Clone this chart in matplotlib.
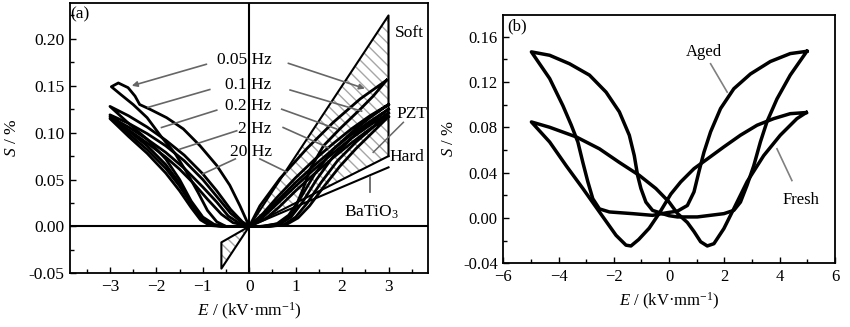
import numpy as np
import matplotlib
matplotlib.use("Agg")
import matplotlib.pyplot as plt
from matplotlib.ticker import MultipleLocator

plt.rcParams['font.family'] = ['Liberation Serif', 'DejaVu Serif']
plt.rcParams['mathtext.fontset'] = 'custom'
plt.rcParams['mathtext.rm'] = 'Liberation Serif'
plt.rcParams['mathtext.it'] = 'Liberation Serif:italic'
plt.rcParams['hatch.linewidth'] = 1.0

# ---------------- panel (a): butterfly loops at several frequencies ----------------
# each loop: right tip -> right outer -> origin -> left inner -> left tip -> left outer -> origin -> right inner -> right tip
loop_005_E = [2.96, 2.39, 1.81, 1.24, 0.66, 0.23, 0.0,
              -0.25, -0.5, -0.7, -0.9, -1.1, -1.35, -1.6, -1.9, -2.2, -2.5, -2.75, -2.97,
              -2.82, -2.61, -2.46, -2.36, -2.14, -1.78, -1.42, -1.06, -0.70, -0.42, -0.20, 0.0,
              0.23, 0.66, 0.95, 1.16, 1.31, 1.60, 1.95, 2.39, 2.67, 2.96]
loop_005_S = [0.156, 0.136, 0.111, 0.083, 0.051, 0.022, 0.0,
              0.0, 0.0, 0.005, 0.017, 0.036, 0.058, 0.078, 0.096, 0.116, 0.130, 0.140, 0.149,
              0.153, 0.148, 0.139, 0.130, 0.125, 0.116, 0.104, 0.086, 0.065, 0.044, 0.022, 0.0,
              0.0, 0.003, 0.015, 0.040, 0.061, 0.086, 0.104, 0.125, 0.139, 0.156]

loop_01_E = [3.0, 2.6, 2.2, 1.8, 1.4, 1.0, 0.6, 0.3, 0.0,
             -0.2, -0.5, -0.75, -1.0, -1.25, -1.5, -1.8, -2.2, -2.6, -3.0,
             -2.6, -2.2, -1.8, -1.4, -1.0, -0.7, -0.4, -0.15, 0.0,
             0.3, 0.6, 0.85, 1.1, 1.4, 1.8, 2.2, 2.6, 3.0]
loop_01_S = [0.130, 0.118, 0.104, 0.088, 0.071, 0.052, 0.031, 0.014, 0.0,
             0.0, 0.0, 0.002, 0.010, 0.027, 0.050, 0.072, 0.093, 0.110, 0.128,
             0.118, 0.106, 0.092, 0.076, 0.056, 0.038, 0.018, 0.005, 0.0,
             0.0, 0.003, 0.012, 0.030, 0.055, 0.082, 0.100, 0.116, 0.130]

loop_02_E = [3.0, 2.6, 2.2, 1.8, 1.4, 1.0, 0.6, 0.3, 0.0,
             -0.5, -0.8, -1.0, -1.25, -1.5, -1.8, -2.2, -2.6, -3.0,
             -2.6, -2.2, -1.8, -1.4, -1.0, -0.7, -0.4, -0.15, 0.0,
             0.35, 0.65, 0.9, 1.15, 1.45, 1.8, 2.2, 2.6, 3.0]
loop_02_S = [0.125, 0.112, 0.098, 0.082, 0.065, 0.047, 0.027, 0.012, 0.0,
             0.0, 0.002, 0.009, 0.025, 0.046, 0.066, 0.086, 0.102, 0.119,
             0.110, 0.099, 0.086, 0.070, 0.050, 0.032, 0.014, 0.004, 0.0,
             0.0, 0.002, 0.010, 0.026, 0.050, 0.074, 0.094, 0.110, 0.125]

loop_2_E = [3.0, 2.6, 2.2, 1.8, 1.4, 1.0, 0.6, 0.3, 0.0,
            -0.6, -0.85, -1.05, -1.25, -1.5, -1.8, -2.2, -2.6, -3.0,
            -2.6, -2.2, -1.8, -1.4, -1.0, -0.7, -0.45, -0.2, 0.0,
            0.4, 0.75, 1.0, 1.25, 1.55, 1.9, 2.3, 2.65, 3.0]
loop_2_S = [0.121, 0.108, 0.094, 0.078, 0.061, 0.043, 0.024, 0.010, 0.0,
            0.0, 0.002, 0.010, 0.024, 0.043, 0.062, 0.082, 0.099, 0.117,
            0.106, 0.093, 0.079, 0.062, 0.042, 0.026, 0.011, 0.003, 0.0,
            0.0, 0.002, 0.010, 0.025, 0.047, 0.070, 0.090, 0.105, 0.121]

loop_20_E = [3.0, 2.6, 2.2, 1.8, 1.4, 1.0, 0.65, 0.35, 0.0,
             -0.6, -0.85, -1.05, -1.25, -1.5, -1.8, -2.2, -2.6, -3.0,
             -2.6, -2.2, -1.8, -1.5, -1.2, -0.9, -0.6, -0.35, 0.0,
             0.45, 0.8, 1.05, 1.3, 1.6, 1.95, 2.3, 2.65, 3.0]
loop_20_S = [0.117, 0.104, 0.089, 0.073, 0.056, 0.038, 0.021, 0.008, 0.0,
             0.0, 0.001, 0.007, 0.020, 0.038, 0.057, 0.078, 0.096, 0.115,
             0.103, 0.089, 0.074, 0.061, 0.046, 0.029, 0.013, 0.004, 0.0,
             0.0, 0.002, 0.009, 0.022, 0.042, 0.064, 0.083, 0.100, 0.117]

loops_a = [(loop_005_E, loop_005_S), (loop_01_E, loop_01_S), (loop_02_E, loop_02_S),
           (loop_2_E, loop_2_S), (loop_20_E, loop_20_S)]

# shaded ranges: soft/hard PZT and BaTiO3
pzt_E = [0.0, 3.0, 3.0, 0.0]
pzt_S = [0.0, 0.225, 0.075, 0.0]
neg_E = [0.0, -0.6, -0.6, 0.0]
neg_S = [0.0, -0.045, -0.017, 0.0]
bto_E = [0.0, 3.0]
bto_S = [0.0, 0.063]

freq_labels = ['0.05 Hz', '0.1 Hz', '0.2 Hz', '2 Hz', '20 Hz']
freq_label_S = [0.177, 0.1505, 0.1285, 0.1038, 0.079]
# pointer lines (start, end) left and right
ptr_left = [((-0.92, 0.173), (-2.53, 0.150)), ((-0.85, 0.146), (-2.18, 0.127)),
            ((-0.70, 0.124), (-1.89, 0.1055)), ((-0.27, 0.102), (-1.49, 0.0825)),
            ((-0.30, 0.072), (-1.00, 0.056))]
ptr_right = [((0.84, 0.174), (2.49, 0.147)), ((0.88, 0.1455), (2.42, 0.123)),
             ((0.70, 0.125), (1.88, 0.104)), ((0.73, 0.1055), (1.70, 0.084)),
             ((0.23, 0.072), (0.81, 0.058))]

# ---------------- panel (b): fresh vs aged ----------------
aged_E = [4.98, 4.38, 3.66, 2.94, 2.34, 1.86, 1.50, 1.26, 1.08, 0.90, 0.66, 0.30, -0.06,
          -0.60, -1.32, -2.16, -2.52, -2.76, -2.94, -3.12, -3.30, -3.54, -3.84, -4.32, -4.98,
          -4.32, -3.60, -2.88, -2.28, -1.80, -1.44, -1.26, -1.14, -1.02, -0.84, -0.60, -0.24, 0.0,
          0.30, 1.02, 1.98, 2.34, 2.58, 2.82, 3.06, 3.30, 3.54, 3.90, 4.38, 4.98]
aged_S = [0.147, 0.145, 0.138, 0.127, 0.114, 0.0965, 0.076, 0.058, 0.041, 0.023, 0.011, 0.006, 0.0047,
          0.0023, 0.0038, 0.0053, 0.008, 0.017, 0.032, 0.049, 0.067, 0.082, 0.099, 0.123, 0.1465,
          0.1435, 0.136, 0.126, 0.111, 0.0936, 0.073, 0.055, 0.0376, 0.026, 0.014, 0.0067, 0.0038, 0.002,
          0.0009, 0.0009, 0.0038, 0.0067, 0.014, 0.029, 0.046, 0.067, 0.085, 0.105, 0.126, 0.147]

fresh_E = [4.96, 4.38, 3.78, 3.18, 2.58, 1.98, 1.38, 0.90, 0.42, 0.06, -0.36, -0.72, -1.10, -1.38,
           -1.56, -1.92, -2.52, -3.12, -3.72, -4.32, -4.98,
           -4.32, -3.36, -2.52, -1.80, -1.08, -0.48, 0.0, 0.30, 0.66, 0.90, 1.14, 1.38,
           1.62, 1.98, 2.34, 2.82, 3.42, 4.02, 4.62, 4.96]
fresh_S = [0.093, 0.092, 0.0876, 0.0818, 0.073, 0.0627, 0.052, 0.0435, 0.0318, 0.021, 0.004, -0.009, -0.019, -0.0247,
           -0.024, -0.0153, 0.0053, 0.026, 0.046, 0.067, 0.0847,
           0.080, 0.0715, 0.061, 0.049, 0.0376, 0.026, 0.014, 0.004, -0.004, -0.012, -0.021, -0.0247,
           -0.0227, -0.0094, 0.0082, 0.032, 0.055, 0.073, 0.0876, 0.093]


def style_axes(ax, size):
    ax.tick_params(which='both', direction='in', top=False, right=False, labelsize=size, pad=4)
    ax.tick_params(which='major', length=4, width=1.0)
    ax.tick_params(which='minor', length=3, width=1.0)
    for sp in ax.spines.values():
        sp.set_linewidth(1.3)


fig = plt.figure(figsize=(8.5, 3.27), dpi=100)

# ---- (a) ----
ax = fig.add_axes([0.0824, 0.1642, 0.5035 - 0.0824, 0.990 - 0.1642])
ax.set_xlim(-3.86, 3.85)
ax.set_ylim(-0.05, 0.238)
ax.xaxis.set_major_locator(MultipleLocator(1))
ax.xaxis.set_minor_locator(MultipleLocator(0.5))
ax.yaxis.set_major_locator(MultipleLocator(0.05))
ax.yaxis.set_minor_locator(MultipleLocator(0.025))
ax.yaxis.set_major_formatter(matplotlib.ticker.FormatStrFormatter('%.2f'))
style_axes(ax, 12.5)

ax.fill(pzt_E, pzt_S, facecolor='none', edgecolor='0.65', hatch='\\' * 3, linewidth=0)
ax.fill(neg_E, neg_S, facecolor='none', edgecolor='0.65', hatch='\\' * 3, linewidth=0)
ax.plot(pzt_E[:3], pzt_S[:3], color='black', lw=1.5)
ax.plot(pzt_E[2:], pzt_S[2:], color='black', lw=1.5)
ax.plot(neg_E, neg_S, color='black', lw=1.5)
ax.plot(bto_E, bto_S, color='black', lw=1.5)

ax.axhline(0, color='black', lw=1.5)
ax.axvline(0, color='black', lw=1.5)

for E, S in loops_a:
    ax.plot(E, S, color='black', lw=2.0, solid_joinstyle='round')

for lab, ys in zip(freq_labels, freq_label_S):
    ax.text(0.48, ys, lab, ha='right', va='center', fontsize=12.5)
for i, ((p0, p1), (q0, q1)) in enumerate(zip(ptr_left, ptr_right)):
    if i == 0:
        for a0, a1 in [(p0, p1), (q0, q1)]:
            ax.annotate('', xy=a1, xytext=a0,
                        arrowprops=dict(arrowstyle='-|>', color='0.4', lw=1.2,
                                        mutation_scale=8, shrinkA=0, shrinkB=0))
    else:
        ax.plot([p0[0], p1[0]], [p0[1], p1[1]], color='0.4', lw=1.2)
        ax.plot([q0[0], q1[0]], [q0[1], q1[1]], color='0.4', lw=1.2)

ax.text(3.14, 0.2065, 'Soft', ha='left', va='center', fontsize=12.5)
ax.text(3.18, 0.1197, 'PZT', ha='left', va='center', fontsize=12.5)
ax.text(3.03, 0.0737, 'Hard', ha='left', va='center', fontsize=12.5)
ax.text(2.64, 0.0153, 'BaTiO$_3$', ha='center', va='center', fontsize=12.5)
ax.plot([3.32, 2.67], [0.111, 0.079], color='0.4', lw=1.1)
ax.plot([2.60, 2.60], [0.0525, 0.0365], color='0.4', lw=1.3)
ax.text(-3.65, 0.226, '(a)', ha='center', va='center', fontsize=12.5)

ax.set_xlabel('$E$ / (kV·mm$^{-1}$)', fontsize=12.5, labelpad=4)
ax.set_ylabel('$S$ / %', fontsize=12.5, labelpad=6)

# ---- (b) ----
bx = fig.add_axes([0.592, 0.1948, 0.9824 - 0.592, 0.954 - 0.1948])
bx.set_xlim(-6, 6)
bx.set_ylim(-0.04, 0.179)
bx.xaxis.set_major_locator(MultipleLocator(2))
bx.xaxis.set_minor_locator(MultipleLocator(1))
bx.yaxis.set_major_locator(MultipleLocator(0.04))
bx.yaxis.set_minor_locator(MultipleLocator(0.02))
bx.yaxis.set_major_formatter(matplotlib.ticker.FormatStrFormatter('%.2f'))
style_axes(bx, 12)

bx.plot(aged_E, aged_S, color='black', lw=2.5, solid_joinstyle='round')
bx.plot(fresh_E, fresh_S, color='black', lw=2.5, solid_joinstyle='round')

bx.text(1.26, 0.1465, 'Aged', ha='center', va='center', fontsize=12)
bx.plot([1.50, 2.10], [0.136, 0.111], color='0.5', lw=1.2)
bx.text(4.77, 0.0155, 'Fresh', ha='center', va='center', fontsize=12)
bx.plot([3.90, 4.44], [0.061, 0.033], color='0.5', lw=1.2)
bx.text(-5.49, 0.1686, '(b)', ha='center', va='center', fontsize=12)

bx.set_xlabel('$E$ / (kV·mm$^{-1}$)', fontsize=12, labelpad=4)
bx.set_ylabel('$S$ / %', fontsize=12, labelpad=4)

fig.savefig('out.png', dpi=100)
